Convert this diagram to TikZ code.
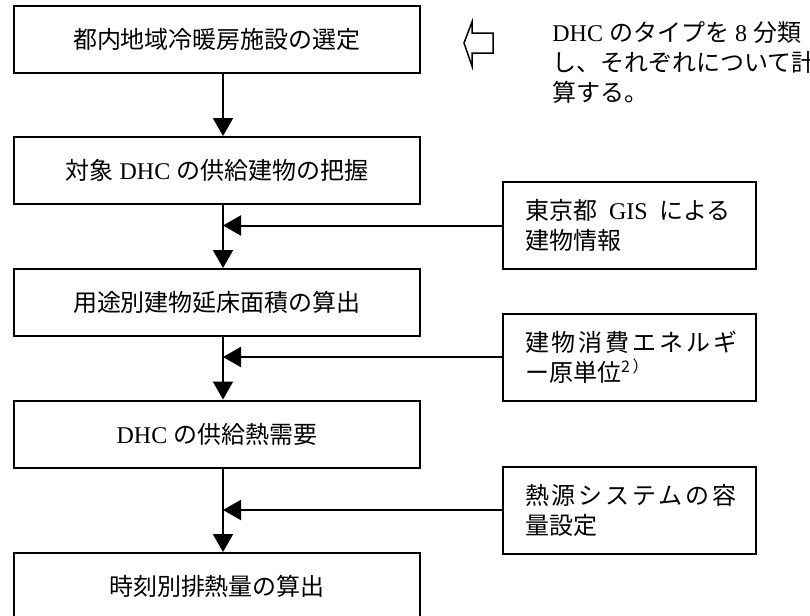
\documentclass[tikz,border=0pt]{standalone}
\usepackage{fontspec}
\usepackage{tikz}
\usetikzlibrary{arrows.meta}
\setmainfont{Liberation Serif}
\newfontfamily\jp{Noto Sans CJK JP}
\newfontfamily\jpwide[LetterSpace=12]{Noto Sans CJK JP}
\tikzset{mainbox/.style = {draw, line width = 1pt, minimum width = 203pt, minimum height = 33.5pt, inner sep = 0},
  sidebox/.style = {draw, line width = 1pt, minimum width = 126.5pt, minimum height = 43.5pt, text width = 104.5pt, align = left, inner sep = 0},
  arr/.style = {line width = 1pt, -{Triangle[length = 9pt, width = 10pt]}}}

\begin{document}
\begin{tikzpicture}[x=0.5pt, y=-0.5pt, font=\fontsize{12}{15}\selectfont]
    \useasboundingbox (0, 0) rectangle (810, 616);
    \node [mainbox] (b1) at (217, 39.5) {{\jp 都内地域冷暖房施設の選定}};
    \node [mainbox] (b2) at (217, 170.5) {{\jp 対象} DHC {\jp の供給建物の把握}};
    \node [mainbox] (b3) at (217, 302.5) {{\jp 用途別建物延床面積の算出}};
    \node [mainbox] (b4) at (217, 434) {DHC {\jp の供給熱需要}};
    \node [mainbox] (b5) at (217, 586.5) {{\jp 時刻別排熱量の算出}};
    \node [sidebox] (s1) at (629.5, 225.5) {{\jp 東京都}\hspace{6pt}GIS\hspace{6pt}{\jp による}\\{\jp 建物情報}};
    \node [sidebox] (s2) at (629.5, 357) {{\jpwide 建物消費エネルギ}\\{\jp ー原単位\textsuperscript{2\,）}}};
    \node [sidebox] (s3) at (629.5, 510) {{\jpwide 熱源システムの容}\\{\jp 量設定}};
    \node [anchor = west, align = left, inner sep = 0] (note) at (552, 62) {DHC {\jp のタイプを} 8 {\jp 分類}\\{\jp し、それぞれについて計}\\{\jp 算する。}};
    \draw [line width = 0.75pt] (493, 33) -- (472, 33) -- (472, 22) -- (464, 43) -- (472, 66) -- (472, 53) -- (493, 53) -- cycle;
    \coordinate (ax) at (223, 0);
    \draw [arr] (b1.south -| ax) -- (b2.north -| ax);
    \draw [arr] (b2.south -| ax) -- (b3.north -| ax);
    \draw [arr] (b3.south -| ax) -- (b4.north -| ax);
    \draw [arr] (b4.south -| ax) -- (b5.north -| ax);
    \draw [arr] (s1.west) -- (s1.west -| ax);
    \draw [arr] (s2.west) -- (s2.west -| ax);
    \draw [arr] (s3.west) -- (s3.west -| ax);
  \end{tikzpicture}
\end{document}
